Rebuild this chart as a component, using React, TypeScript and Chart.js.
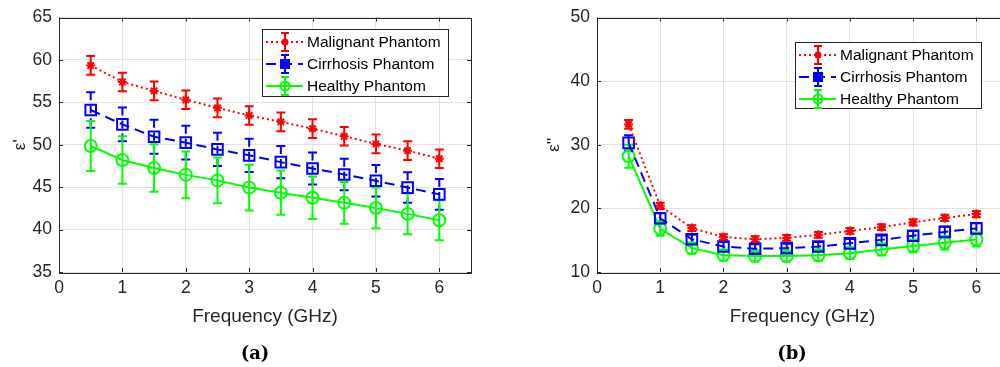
import React, { useEffect, useRef } from "react";
import { Chart, registerables } from "chart.js";

Chart.register(...registerables);

// ---------- data ----------
const frequencies = [0.5, 1, 1.5, 2, 2.5, 3, 3.5, 4, 4.5, 5, 5.5, 6];
const seriesNames = ["Malignant Phantom", "Cirrhosis Phantom", "Healthy Phantom"];

const malignantReal = [59.35, 57.4, 56.35, 55.3, 54.35, 53.45, 52.7, 51.9, 51.0, 50.1, 49.3, 48.35];
const malignantRealErr = [1.1, 1.1, 1.1, 1.1, 1.1, 1.1, 1.1, 1.1, 1.1, 1.1, 1.1, 1.1];
const cirrhosisReal = [54.1, 52.4, 50.95, 50.25, 49.45, 48.75, 47.95, 47.2, 46.5, 45.75, 44.95, 44.15];
const cirrhosisRealErr = [2.1, 2.0, 2.0, 2.0, 1.95, 1.95, 1.9, 1.9, 1.85, 1.85, 1.8, 1.8];
const healthyReal = [49.85, 48.2, 47.25, 46.45, 45.8, 44.95, 44.35, 43.75, 43.15, 42.55, 41.85, 41.1];
const healthyRealErr = [2.95, 2.8, 2.8, 2.75, 2.7, 2.7, 2.6, 2.5, 2.45, 2.4, 2.4, 2.35];

const malignantImag = [33.2, 20.4, 16.9, 15.5, 15.15, 15.35, 15.85, 16.45, 17.05, 17.8, 18.5, 19.1];
const malignantImagErr = [0.7, 0.5, 0.45, 0.45, 0.45, 0.45, 0.45, 0.45, 0.45, 0.5, 0.5, 0.5];
const cirrhosisImag = [30.3, 18.45, 15.15, 14.0, 13.65, 13.75, 14.0, 14.5, 15.05, 15.7, 16.3, 16.85];
const cirrhosisImagErr = [1.2, 0.8, 0.7, 0.7, 0.7, 0.7, 0.7, 0.7, 0.7, 0.75, 0.8, 0.8];
const healthyImag = [28.2, 16.8, 13.75, 12.65, 12.5, 12.5, 12.65, 12.95, 13.55, 14.1, 14.6, 15.1];
const healthyImagErr = [1.8, 1.1, 0.9, 0.85, 0.85, 0.85, 0.9, 0.9, 0.95, 1.0, 1.05, 1.1];

const xAxisTitle = "Frequency (GHz)";
const xMin = 0;
const xMax = 6.5;
const xStep = 1;
const realYTitle = "ε'";
const realYRange = [35, 65];
const realYStep = 5;
const imagYTitle = "ε''";
const imagYRange = [10, 50];
const imagYStep = 10;

// ---------- styles ----------
const FONT = "'Liberation Sans', Arial, Helvetica, sans-serif";
const AXIS_COLOR = "#262626";
const GRID_COLOR = "#e2e2e2";

const seriesStyles = [
  { color: "#ff0000", dash: [2, 3], errDash: [] as number[], marker: "star", radius: 4.5 },
  { color: "#0000ff", dash: [10, 6], errDash: [8, 5], marker: "rect", radius: 5.3 },
  { color: "#00ff00", dash: [] as number[], errDash: [] as number[], marker: "circle", radius: 6 },
];

function drawMarker(ctx: CanvasRenderingContext2D, kind: string, x: number, y: number, r: number, color: string, filled: boolean) {
  ctx.save();
  ctx.setLineDash([]);
  ctx.strokeStyle = color;
  ctx.fillStyle = color;
  ctx.lineWidth = 2;
  ctx.beginPath();
  if (kind === "star") {
    for (let k = 0; k < 4; k++) {
      const a = (k * Math.PI) / 4;
      ctx.moveTo(x - r * Math.cos(a), y - r * Math.sin(a));
      ctx.lineTo(x + r * Math.cos(a), y + r * Math.sin(a));
    }
    ctx.stroke();
  } else if (kind === "rect") {
    ctx.rect(x - r, y - r, 2 * r, 2 * r);
    if (filled) ctx.fill();
    ctx.stroke();
  } else {
    ctx.arc(x, y, r, 0, Math.PI * 2);
    if (filled) ctx.fill();
    ctx.stroke();
  }
  ctx.restore();
}

const decorPlugin = {
  id: "matlabDecor",
  beforeDatasetsDraw(chart: any) {
    const ctx: CanvasRenderingContext2D = chart.ctx;
    const xs = chart.scales.x;
    const ys = chart.scales.y;
    chart.data.datasets.forEach((ds: any, i: number) => {
      const st = seriesStyles[i];
      ctx.save();
      ctx.strokeStyle = st.color;
      ctx.lineWidth = 2;
      ds.data.forEach((p: any, j: number) => {
        const e = ds.errors[j];
        const px = xs.getPixelForValue(p.x);
        const yt = ys.getPixelForValue(p.y + e);
        const yb = ys.getPixelForValue(p.y - e);
        ctx.setLineDash(st.errDash);
        ctx.beginPath();
        ctx.moveTo(px, yt);
        ctx.lineTo(px, yb);
        ctx.stroke();
        ctx.setLineDash([]);
        ctx.beginPath();
        ctx.moveTo(px - 4.5, yt);
        ctx.lineTo(px + 4.5, yt);
        ctx.moveTo(px - 4.5, yb);
        ctx.lineTo(px + 4.5, yb);
        ctx.stroke();
      });
      ctx.restore();
    });
  },
  afterDraw(chart: any, _args: any, opts: any) {
    const ctx: CanvasRenderingContext2D = chart.ctx;
    const a = chart.chartArea;
    const xs = chart.scales.x;
    const ys = chart.scales.y;
    ctx.save();
    ctx.strokeStyle = AXIS_COLOR;
    ctx.lineWidth = 1;
    ctx.setLineDash([]);
    ctx.strokeRect(Math.round(a.left) + 0.5, Math.round(a.top) + 0.5, Math.round(a.right - a.left), Math.round(a.bottom - a.top));
    ctx.beginPath();
    xs.ticks.forEach((t: any) => {
      const px = Math.round(xs.getPixelForValue(t.value)) + 0.5;
      ctx.moveTo(px, a.bottom);
      ctx.lineTo(px, a.bottom - 4);
      ctx.moveTo(px, a.top);
      ctx.lineTo(px, a.top + 4);
    });
    ys.ticks.forEach((t: any) => {
      const py = Math.round(ys.getPixelForValue(t.value)) + 0.5;
      ctx.moveTo(a.left, py);
      ctx.lineTo(a.left + 4, py);
      ctx.moveTo(a.right, py);
      ctx.lineTo(a.right - 4, py);
    });
    ctx.stroke();

    // legend box
    const b = opts.box;
    if (b) {
      ctx.fillStyle = "#ffffff";
      ctx.fillRect(b.x, b.y, b.w, b.h);
      ctx.strokeStyle = AXIS_COLOR;
      ctx.strokeRect(b.x + 0.5, b.y + 0.5, b.w, b.h);
      seriesNames.forEach((name, i) => {
        const st = seriesStyles[i];
        const cy = b.y + 13 + i * 22;
        const mx = b.x + 23;
        ctx.save();
        ctx.strokeStyle = st.color;
        ctx.lineWidth = 2;
        ctx.setLineDash(st.dash);
        ctx.beginPath();
        ctx.moveTo(b.x + 4, cy);
        ctx.lineTo(b.x + 41, cy);
        ctx.stroke();
        ctx.setLineDash([]);
        ctx.beginPath();
        ctx.moveTo(mx, cy - 9);
        ctx.lineTo(mx, cy + 9);
        ctx.moveTo(mx - 4, cy - 9);
        ctx.lineTo(mx + 4, cy - 9);
        ctx.moveTo(mx - 4, cy + 9);
        ctx.lineTo(mx + 4, cy + 9);
        ctx.stroke();
        ctx.restore();
        if (st.marker === "star") drawMarker(ctx, "circle", mx, cy, 2.5, st.color, true);
        else if (st.marker === "rect") drawMarker(ctx, "rect", mx, cy, 4, st.color, true);
        else drawMarker(ctx, "circle", mx, cy, 4.5, st.color, false);
        ctx.fillStyle = "#000000";
        ctx.font = `15.5px ${FONT}`;
        ctx.textBaseline = "middle";
        ctx.textAlign = "left";
        ctx.fillText(name, b.x + 45, cy + 1);
      });
    }
    ctx.restore();
  },
};

function buildDatasets(values: number[][], errors: number[][]) {
  return values.map((vals, i) => {
    const st = seriesStyles[i];
    return {
      label: seriesNames[i],
      data: frequencies.map((f, j) => ({ x: f, y: vals[j] })),
      errors: errors[i],
      borderColor: st.color,
      backgroundColor: "rgba(0,0,0,0)",
      borderWidth: 2,
      borderDash: st.dash,
      pointStyle: st.marker === "star" ? "star" : st.marker === "rect" ? "rect" : "circle",
      pointRadius: st.marker === "rect" ? st.radius * 1.414 : st.radius,
      pointBorderWidth: 2,
      pointBorderColor: st.color,
      pointBackgroundColor: "rgba(0,0,0,0)",
      tension: 0,
      fill: false,
    };
  });
}

type PanelProps = {
  values: number[][];
  errors: number[][];
  yTitle: string;
  yRange: number[];
  yStep: number;
  width: number;
  padLeft: number;
  padRight: number;
  yAxisWidth: number;
  box: { x: number; y: number; w: number; h: number };
};

function Panel(props: PanelProps) {
  const ref = useRef<HTMLCanvasElement | null>(null);
  useEffect(() => {
    if (!ref.current) return;
    const chart = new Chart(ref.current, {
      type: "line",
      data: { datasets: buildDatasets(props.values, props.errors) as any },
      plugins: [decorPlugin as any],
      options: {
        responsive: false,
        animation: false,
        events: [],
        devicePixelRatio: 1,
        layout: { padding: { left: props.padLeft, right: props.padRight, top: 16, bottom: 39 } },
        plugins: {
          legend: { display: false },
          tooltip: { enabled: false },
          matlabDecor: { box: props.box },
        } as any,
        scales: {
          x: {
            type: "linear",
            min: xMin,
            max: xMax,
            afterFit: (s: any) => {
              s.height = 56;
            },
            ticks: {
              stepSize: xStep,
              includeBounds: false,
              autoSkip: false,
              maxRotation: 0,
              padding: 6,
              color: AXIS_COLOR,
              font: { family: FONT, size: 17.5 },
            },
            grid: { color: GRID_COLOR, drawTicks: false, lineWidth: 1 },
            border: { display: false },
            title: {
              display: true,
              text: xAxisTitle,
              color: AXIS_COLOR,
              padding: 0,
              font: { family: FONT, size: 19 },
            },
          },
          y: {
            type: "linear",
            min: props.yRange[0],
            max: props.yRange[1],
            afterFit: (s: any) => {
              s.width = props.yAxisWidth;
            },
            ticks: {
              stepSize: props.yStep,
              autoSkip: false,
              padding: 7,
              color: AXIS_COLOR,
              font: { family: FONT, size: 17.5 },
            },
            grid: { color: GRID_COLOR, drawTicks: false, lineWidth: 1 },
            border: { display: false },
            title: {
              display: true,
              text: props.yTitle,
              color: AXIS_COLOR,
              padding: 0,
              font: { family: FONT, size: 17 },
            },
          },
        },
      } as any,
    });
    return () => chart.destroy();
  }, []);
  return <canvas ref={ref} width={props.width} height={367} style={{ width: props.width, height: 367, display: "block" }} />;
}

const captionStyle: React.CSSProperties = {
  position: "absolute",
  top: 341,
  fontFamily: "'DejaVu Serif', 'Liberation Serif', serif",
  fontWeight: "bold",
  fontSize: 18,
  color: "#000",
  lineHeight: "24px",
  transform: "translateX(-50%)",
  whiteSpace: "nowrap",
};

export default function App() {
  return (
    <div style={{ position: "absolute", left: 0, top: 0, width: 1000, height: 367, overflow: "hidden", background: "#fff" }}>
      <div style={{ position: "absolute", left: 0, top: 0 }}>
        <Panel
          values={[malignantReal, cirrhosisReal, healthyReal]}
          errors={[malignantRealErr, cirrhosisRealErr, healthyRealErr]}
          yTitle={realYTitle}
          yRange={realYRange}
          yStep={realYStep}
          width={500}
          padLeft={10}
          padRight={29}
          yAxisWidth={49}
          box={{ x: 262, y: 29, w: 186, h: 67 }}
        />
      </div>
      <div style={{ position: "absolute", left: 500, top: 0 }}>
        <Panel
          values={[malignantImag, cirrhosisImag, healthyImag]}
          errors={[malignantImagErr, cirrhosisImagErr, healthyImagErr]}
          yTitle={imagYTitle}
          yRange={imagYRange}
          yStep={imagYStep}
          width={520}
          padLeft={44}
          padRight={12}
          yAxisWidth={53}
          box={{ x: 295, y: 42, w: 186, h: 66 }}
        />
      </div>
      <div style={{ ...captionStyle, left: 255 }}>(a)</div>
      <div style={{ ...captionStyle, left: 792 }}>(b)</div>
    </div>
  );
}
